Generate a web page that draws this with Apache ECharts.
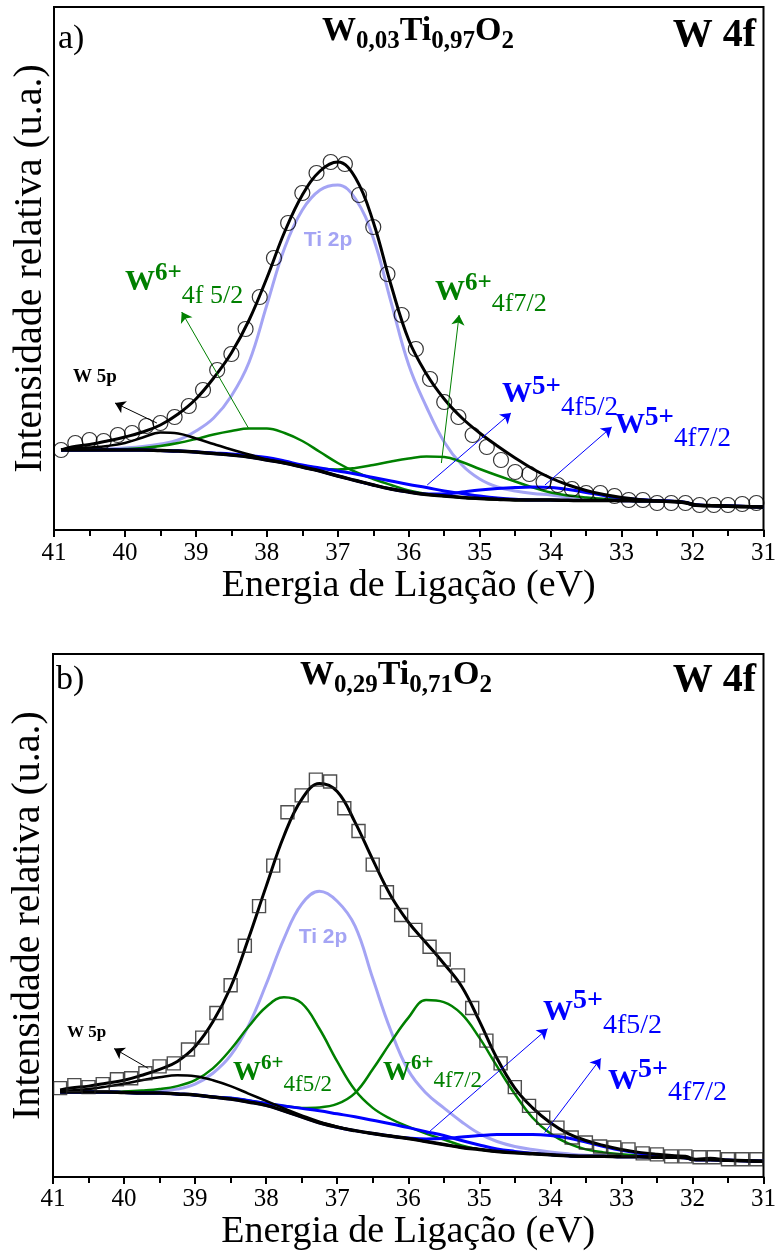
<!DOCTYPE html>
<html>
<head>
<meta charset="utf-8">
<title>XPS W 4f</title>
<script src="https://cdn.jsdelivr.net/npm/echarts@6/dist/echarts.min.js"></script>
<style>
  html, body { margin: 0; padding: 0; background: #fff; }
  #chart { width: 779px; height: 1252px; }
</style>
</head>
<body>
<div id="chart"></div>
<script>
// ---------- measured points (binding energy in eV, intensity in arbitrary units) ----------
const expEnergy = [40.9, 40.7, 40.5, 40.3, 40.1, 39.9, 39.7, 39.5, 39.3, 39.1,
  38.9, 38.7, 38.5, 38.3, 38.1, 37.9, 37.7, 37.5, 37.3, 37.1,
  36.9, 36.7, 36.5, 36.3, 36.1, 35.9, 35.7, 35.5, 35.3, 35.1,
  34.9, 34.7, 34.5, 34.3, 34.1, 33.9, 33.7, 33.5, 33.3, 33.1,
  32.9, 32.7, 32.5, 32.3, 32.1, 31.9, 31.7, 31.5, 31.3, 31.1];

// a) W0,03Ti0,97O2
const expA = [80, 87, 90, 89, 95, 97, 104, 107, 113, 124,
  140, 160, 176, 201, 233, 272, 307, 337, 357, 368,
  366, 335, 303, 256, 215, 181, 151, 128, 113, 95,
  83, 70, 58, 56, 48, 45, 41, 37, 37, 34,
  30, 30, 27, 27, 27, 25, 25, 25, 26, 27];

// b) W0,29Ti0,71O2
const expB = [90, 93, 91, 94, 99, 100, 105, 112, 115, 129,
  141, 166, 194, 234, 274, 315, 369, 386, 402, 400,
  373, 350, 316, 288, 265, 250, 233, 220, 204, 171,
  138, 115, 91, 72, 60, 50, 40, 35, 31, 30,
  28, 24, 23, 21, 21, 20, 20, 18, 18, 18];

// ---------- fitted components, sampled on a common energy grid ----------
const fitEnergy = [40.9, 40.75, 40.5, 40.25, 40.0, 39.75, 39.5, 39.25, 39.0, 38.75,
  38.5, 38.25, 38.0, 37.75, 37.5, 37.25, 37.0, 36.75, 36.5, 36.25,
  36.0, 35.75, 35.5, 35.25, 35.0, 34.75, 34.5, 34.25, 34.0, 33.75,
  33.5, 33.25, 33.0, 32.75, 32.5, 32.25, 32.1, 31.95, 31.75, 31.5,
  31.25, 31.0];

// panel a
const envA = [80, 83, 85.5, 89, 93, 98, 105, 116, 131, 152,
  177, 210, 252, 298, 335, 359, 368, 352, 308, 245,
  190, 156, 131, 112, 97, 84, 72, 61, 52, 45,
  39.5, 35.5, 32.5, 30.5, 29, 28, 27, 24.5, 24, 23.5,
  23, 23];
const bgA = [80, 80, 80, 80, 80, 80, 79.5, 79, 78, 76.5,
  75, 73, 70, 67, 63, 59, 54, 49.5, 45, 41,
  38, 35.5, 34, 32.5, 31.5, 30.7, 30, 30, 30, 29.7,
  29.5, 29.5, 29.3, 29, 29, 28.5, 27.5, 25, 24.5, 24,
  23.5, 23];
const w5pA = [80.5, 81.5, 82.5, 84, 87, 92.5, 97.5, 96.5, 91.5, 86,
  80.5, 75.5, 70.5, 67, 63, 59, 54, 49.5, 45, 41,
  38, 35.5, 34, 32.5, 31.5, 30.7, 30, 30, 30, 29.7,
  29.5, 29.5, 29.3, 29, 29, 28.5, 27.5, 25, 24.5, 24,
  23.5, 23];
const ti2pA = [80, 80, 80.5, 81, 82, 83.5, 86, 90, 99, 112,
  134, 168, 225, 282, 320, 340, 345, 331, 292, 228,
  165, 123, 88, 65, 51, 43, 39, 36.5, 35, 33,
  32, 31, 30, 29.5, 29, 28.5, 27.5, 25, 24.5, 24,
  23.5, 23];
const w6p52A = [80, 80, 80, 80.5, 81, 82, 84, 87, 91, 95.5,
  99, 101.5, 101.5, 97, 89, 78, 67, 58, 51, 45,
  39.5, 36, 34, 32.5, 31.5, 30.7, 30, 30, 30, 29.7,
  29.5, 29.5, 29.3, 29, 29, 28.5, 27.5, 25, 24.5, 24,
  23.5, 23];
const w6p72A = [80, 80, 80, 80, 80, 80, 79.5, 79, 78, 76.5,
  75, 73, 70, 67, 64.5, 61.5, 60.5, 62, 65, 68.5,
  71.5, 73.5, 73, 68, 61, 54.5, 48.5, 42.5, 37.5, 34.5,
  32.5, 31, 30, 29, 29, 28.5, 27.5, 25, 24.5, 24,
  23.5, 23];
const w5p52A = [80, 80, 80, 80, 80, 80, 79.5, 79, 78, 77,
  76, 74.5, 72.5, 69, 65, 62, 59, 56, 52.5, 49,
  45.5, 42.5, 39, 36.5, 34, 32, 30.7, 30, 30, 29.7,
  29.5, 29.5, 29.3, 29, 29, 28.5, 27.5, 25, 24.5, 24,
  23.5, 23];
const w5p72A = [80, 80, 80, 80, 80, 80, 79.5, 79, 78, 76.5,
  75, 73, 70, 67, 63, 59, 54, 49.5, 45, 41,
  38, 36, 36, 38, 40, 41.5, 42.5, 43, 42.5, 40.5,
  37.5, 34.5, 32, 30.5, 29.5, 28.5, 27.5, 25, 24.5, 24,
  23.5, 23];

// panel b
const envB = [88, 90, 92, 95, 98, 103, 109, 117, 132, 157,
  192, 241, 294, 345, 382, 398, 390, 359, 321, 285,
  258, 237, 216, 193, 158, 120, 90, 70, 55, 44,
  37, 32, 28, 25, 23, 21.5, 21, 18, 19, 17,
  16.5, 16];
const bgB = [86, 86, 86, 86, 85.5, 85, 85, 84, 83, 81,
  79, 76, 72.5, 67, 61, 55, 50.5, 47, 44, 41.5,
  39, 36, 33, 30, 28, 26, 24.5, 23.5, 22.5, 21.5,
  21, 21, 20.5, 20.5, 20, 20, 19.5, 17.5, 17.5, 17,
  16.5, 16];
const w5pB = [86.5, 87.5, 89, 91.5, 94.5, 98, 101, 103, 102, 98,
  92, 84.5, 77, 69.5, 62.5, 56, 51, 47, 44, 41.5,
  39, 36, 33, 30, 28, 26, 24.5, 23.5, 22.5, 21.5,
  21, 21, 20.5, 20.5, 20, 20, 19.5, 17.5, 17.5, 17,
  16.5, 16];
const ti2pB = [86, 86, 86, 86, 86, 86.5, 87, 89, 94, 105,
  123, 153, 195, 241, 276, 289, 279, 254, 201, 149,
  108, 85, 70, 56, 44, 36, 31, 28, 25.5, 23.5,
  22, 21.5, 20.5, 20.5, 20, 20, 19.5, 17.5, 17.5, 17,
  16.5, 16];
const w6p52B = [86, 86, 86, 86, 86.5, 87.5, 89, 92, 98, 110,
  129, 152, 172, 182, 176, 150, 117, 88, 70, 59,
  51, 44, 38, 32, 28, 26, 24.5, 23.5, 22.5, 21.5,
  21, 21, 20.5, 20.5, 20, 20, 19.5, 17.5, 17.5, 17,
  16.5, 16];
const w6p72B = [86, 86, 86, 86, 85.5, 85, 85, 84, 83, 81,
  80, 77.5, 74.5, 72, 70, 70.5, 74, 85, 109, 136,
  161, 179, 177, 165, 141, 112, 84, 60, 44, 34,
  28, 25, 23, 21.5, 20.5, 20, 19.5, 17.5, 17.5, 17,
  16.5, 16];
const w5p52B = [86, 86, 86, 86, 85.5, 85, 85, 84, 83, 81,
  80, 77.5, 74.5, 72, 69.5, 67, 64, 61, 57.5, 54,
  50, 46, 42, 37, 32.5, 28.5, 26, 24, 22.5, 21.5,
  21, 21, 20.5, 20.5, 20, 20, 19.5, 17.5, 17.5, 17,
  16.5, 16];
const w5p72B = [86, 86, 86, 86, 85.5, 85, 85, 84, 83, 81,
  79, 76, 72.5, 67, 61, 55, 50.5, 47, 44, 41.5,
  39.5, 38.5, 39, 40.5, 42, 43, 43, 43, 42, 39.5,
  35.5, 31, 27, 24, 22, 20.5, 19.5, 17.5, 17.5, 17,
  16.5, 16];

const xTicks = [31, 32, 33, 34, 35, 36, 37, 38, 39, 40, 41];

// ---------- styling ----------
const SERIF = '"Liberation Serif", "Times New Roman", serif';
const SANS = '"Liberation Sans", Arial, sans-serif';
const C_GREEN = '#008000';
const C_BLUE = '#0000ff';
const C_LAV = '#a4a4f4';
const C_BLACK = '#000000';

const pairs = (xs, ys) => xs.map((x, i) => [x, ys[i]]);

function xAxisFor(gridIndex, nameGap, labelMargin) {
  return {
    gridIndex, type: 'value', min: 31, max: 41, interval: 1, inverse: true,
    name: 'Energia de Ligação (eV)', nameLocation: 'middle', nameGap,
    nameTextStyle: { fontFamily: SERIF, fontSize: 38, color: C_BLACK },
    axisLine: { show: true, onZero: false, lineStyle: { color: C_BLACK, width: 2 } },
    axisTick: { show: true, inside: false, length: 7, lineStyle: { color: C_BLACK, width: 2 } },
    minorTick: { show: true, splitNumber: 2, length: 6, lineStyle: { color: C_BLACK, width: 2 } },
    axisLabel: {
      margin: labelMargin, fontFamily: SERIF, fontSize: 25, color: C_BLACK,
      formatter: v => (xTicks.indexOf(v) >= 0 ? String(v) : '')
    },
    splitLine: { show: false }, minorSplitLine: { show: false }
  };
}
function yAxisFor(gridIndex, max, nameGap) {
  return {
    gridIndex, type: 'value', min: 0, max,
    name: 'Intensidade relativa (u.a.)', nameLocation: 'middle', nameGap,
    nameTextStyle: { fontFamily: SERIF, fontSize: 40, color: C_BLACK },
    axisLine: { show: false }, axisTick: { show: false }, axisLabel: { show: false },
    splitLine: { show: false }
  };
}

function curve(name, idx, xs, ys, color, width) {
  return {
    name, type: 'line', xAxisIndex: idx, yAxisIndex: idx,
    data: pairs(xs, ys), smooth: 0.4, showSymbol: false, symbol: 'none',
    lineStyle: { color, width }, silent: true
  };
}
function points(name, idx, xs, ys, symbol, size, borderColor, borderWidth) {
  return {
    name, type: 'scatter', xAxisIndex: idx, yAxisIndex: idx,
    data: pairs(xs, ys), symbol, symbolSize: size, silent: true, z: 5,
    itemStyle: { color: 'rgba(0,0,0,0)', borderColor, borderWidth }
  };
}
function arrows(list) {
  return {
    silent: true, symbol: ['none', 'arrow'], symbolSize: 10,
    label: { show: false }, emphasis: { disabled: true },
    data: list.map(a => [
      { coord: a.from, lineStyle: { color: a.color, width: 1, type: 'solid' } },
      { coord: a.to, lineStyle: { color: a.color, width: 1, type: 'solid' } }
    ])
  };
}

// annotation arrows (data coordinates: eV, intensity)
const arrowsA = [
  { from: [39.55, 107], to: [40.14, 127], color: C_BLACK },
  { from: [38.26, 102], to: [39.20, 218], color: C_GREEN },
  { from: [35.54, 67], to: [35.29, 215], color: C_GREEN },
  { from: [35.74, 45], to: [34.56, 117], color: C_BLUE },
  { from: [34.08, 45], to: [33.14, 103], color: C_BLUE }
];
const arrowsB = [
  { from: [39.66, 110], to: [40.14, 130], color: C_BLACK },
  { from: [35.75, 43], to: [34.04, 150], color: C_BLUE },
  { from: [34.08, 45], to: [33.29, 120], color: C_BLUE }
];

// ---------- text placement ----------
const measureCtx = document.createElement('canvas').getContext('2d');
function textEl(t, x, y, size, bold, color, family, align) {
  return {
    type: 'text', x, y, z: 100, silent: true,
    style: {
      text: t, fontFamily: family || SERIF, fontSize: size,
      fontWeight: bold ? 'bold' : 'normal', fill: color,
      textAlign: align || 'left', textVerticalAlign: 'middle',
      align: align || 'left', verticalAlign: 'middle'
    }
  };
}
// places a run of text pieces side by side (used for sub/superscripts)
function run(x0, cy, color, parts) {
  let x = x0;
  return parts.map(p => {
    measureCtx.font = (p.b ? 'bold ' : '') + p.s + 'px ' + SERIF;
    const el = textEl(p.t, x, cy + (p.dy || 0), p.s, p.b, color);
    x += measureCtx.measureText(p.t).width;
    return el;
  });
}
function formula(x0, cy, a, b) {
  return run(x0, cy, C_BLACK, [
    { t: 'W', s: 34, b: 1 }, { t: a, s: 25, b: 1, dy: 11 },
    { t: 'Ti', s: 34, b: 1 }, { t: b, s: 25, b: 1, dy: 11 },
    { t: 'O', s: 34, b: 1 }, { t: '2', s: 25, b: 1, dy: 11 }
  ]);
}

const graphics = [].concat(
  // panel a
  run(58, 39, C_BLACK, [{ t: 'a)', s: 34 }]),
  formula(322, 31, '0,03', '0,97'),
  [textEl('W 4f', 756, 36, 40, true, C_BLACK, SERIF, 'right')],
  [textEl('Ti 2p', 328, 240, 21, true, C_LAV, SANS, 'center')],
  run(73, 377, C_BLACK, [{ t: 'W 5p', s: 19, b: 1 }]),
  run(125, 282, C_GREEN, [{ t: 'W', s: 30, b: 1 }, { t: '6+', s: 25, b: 1, dy: -8 }, { t: '4f 5/2', s: 26, dy: 14 }]),
  run(435, 292, C_GREEN, [{ t: 'W', s: 30, b: 1 }, { t: '6+', s: 25, b: 1, dy: -8 }, { t: '4f7/2', s: 26, dy: 12 }]),
  run(502, 394, C_BLUE, [{ t: 'W', s: 30, b: 1 }, { t: '5+', s: 27, b: 1, dy: -7 }, { t: '4f5/2', s: 27, dy: 14 }]),
  run(615, 425, C_BLUE, [{ t: 'W', s: 30, b: 1 }, { t: '5+', s: 27, b: 1, dy: -7 }, { t: '4f7/2', s: 27, dy: 14 }]),
  // panel b
  run(56, 680, C_BLACK, [{ t: 'b)', s: 34 }]),
  formula(300, 675, '0,29', '0,71'),
  [textEl('W 4f', 756, 681, 40, true, C_BLACK, SERIF, 'right')],
  [textEl('Ti 2p', 323, 937, 21, true, C_LAV, SANS, 'center')],
  run(67, 1033, C_BLACK, [{ t: 'W 5p', s: 17, b: 1 }]),
  run(233, 1073, C_GREEN, [{ t: 'W', s: 28, b: 1 }, { t: '6+', s: 21, b: 1, dy: -9 }, { t: '4f5/2', s: 23, dy: 12 }]),
  run(383, 1073, C_GREEN, [{ t: 'W', s: 28, b: 1 }, { t: '6+', s: 21, b: 1, dy: -9 }, { t: '4f7/2', s: 23, dy: 8 }]),
  run(543, 1012, C_BLUE, [{ t: 'W', s: 30, b: 1 }, { t: '5+', s: 28, b: 1, dy: -11 }, { t: '4f5/2', s: 28, dy: 14 }]),
  run(608, 1081, C_BLUE, [{ t: 'W', s: 30, b: 1 }, { t: '5+', s: 28, b: 1, dy: -11 }, { t: '4f7/2', s: 28, dy: 12 }])
);

const envSeriesA = curve('Envelope a', 0, fitEnergy, envA, C_BLACK, 3);
envSeriesA.markLine = arrows(arrowsA);
const envSeriesB = curve('Envelope b', 1, fitEnergy, envB, C_BLACK, 3);
envSeriesB.markLine = arrows(arrowsB);

const option = {
  animation: false,
  backgroundColor: '#ffffff',
  textStyle: { fontFamily: SERIF },
  grid: [
    { left: 54, top: 7, width: 711, height: 523, show: true, borderColor: C_BLACK, borderWidth: 2, backgroundColor: 'transparent' },
    { left: 49, top: 654, width: 717, height: 529, show: true, borderColor: C_BLACK, borderWidth: 2, backgroundColor: 'transparent' }
  ],
  xAxis: [xAxisFor(0, 31, 11), xAxisFor(1, 24, 10)],
  yAxis: [yAxisFor(0, 523, 4), yAxisFor(1, 529, 5)],
  series: [
    curve('Ti 2p a', 0, fitEnergy, ti2pA, C_LAV, 3),
    curve('W6+ 4f5/2 a', 0, fitEnergy, w6p52A, C_GREEN, 2.5),
    curve('W6+ 4f7/2 a', 0, fitEnergy, w6p72A, C_GREEN, 2.5),
    curve('W5+ 4f5/2 a', 0, fitEnergy, w5p52A, C_BLUE, 3),
    curve('W5+ 4f7/2 a', 0, fitEnergy, w5p72A, C_BLUE, 3),
    curve('Fundo a', 0, fitEnergy, bgA, C_BLACK, 3.5),
    curve('W 5p a', 0, fitEnergy, w5pA, C_BLACK, 2.5),
    envSeriesA,
    points('Exp a', 0, expEnergy, expA, 'circle', 15, C_BLACK, 1.2),

    curve('Ti 2p b', 1, fitEnergy, ti2pB, C_LAV, 3),
    curve('W6+ 4f5/2 b', 1, fitEnergy, w6p52B, C_GREEN, 2.5),
    curve('W6+ 4f7/2 b', 1, fitEnergy, w6p72B, C_GREEN, 2.5),
    curve('W5+ 4f5/2 b', 1, fitEnergy, w5p52B, C_BLUE, 3),
    curve('W5+ 4f7/2 b', 1, fitEnergy, w5p72B, C_BLUE, 3),
    curve('Fundo b', 1, fitEnergy, bgB, C_BLACK, 3.5),
    curve('W 5p b', 1, fitEnergy, w5pB, C_BLACK, 2.5),
    envSeriesB,
    points('Exp b', 1, expEnergy, expB, 'rect', 13, '#222222', 1.4)
  ],
  graphic: { elements: graphics }
};

const chart = echarts.init(document.getElementById('chart'), null, { renderer: 'canvas' });
chart.setOption(option);
</script>
</body>
</html>
